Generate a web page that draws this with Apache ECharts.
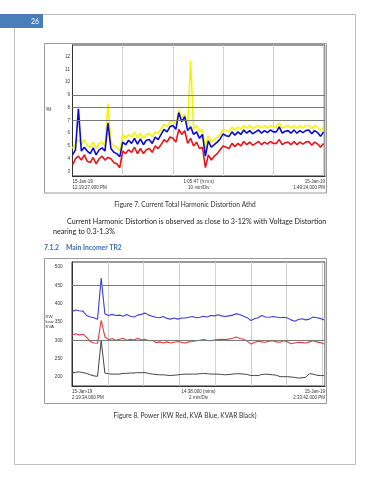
<!DOCTYPE html>
<html><head><meta charset="utf-8">
<script src="https://cdn.jsdelivr.net/npm/echarts@6/dist/echarts.min.js"></script>
<style>html,body{margin:0;padding:0;background:#fff}#c{width:370px;height:480px}</style>
</head><body><div id="c"></div>
<script>
// ---- Figure 7: Current THD (%f) ----
const thdYellow = [
  4.8,5.2,5.5,5.1,5.5,5.0,4.9,5.3,4.8,5.2,
  5.3,5.0,8.3,5.3,5.0,4.9,4.6,5.9,5.6,5.9,
  5.7,6.1,5.6,6.0,5.6,5.9,6.0,5.7,6.1,6.0,
  6.3,6.7,6.5,6.9,6.9,6.7,7.8,7.2,7.5,6.6,
  11.7,6.3,6.6,6.1,6.3,4.8,5.8,5.3,5.5,5.7,
  5.9,6.3,6.2,6.1,6.5,6.2,6.5,6.3,6.6,6.4,
  6.6,6.35,6.5,6.6,6.4,6.6,6.4,6.6,6.5,6.5,
  6.8,6.4,6.5,6.6,6.4,6.6,6.4,6.6,6.4,6.6,
  6.6,6.35,6.6,6.45,6.2,6.5];
const thdBlue = [
  4.3,4.7,7.9,4.6,4.9,4.6,4.4,4.85,4.3,4.7,
  4.85,4.6,6.8,4.8,4.5,4.4,4.15,5.3,5.1,5.45,
  5.2,5.6,5.15,5.55,5.1,5.45,5.5,5.2,5.7,5.5,
  5.9,6.3,6.1,6.5,6.6,6.3,7.6,6.9,7.3,6.2,
  6.5,5.9,6.1,5.6,5.9,4.2,5.4,4.9,5.1,5.3,
  5.55,5.95,5.8,5.75,6.1,5.85,6.1,5.9,6.25,6.0,
  6.2,5.95,6.1,6.25,6.0,6.2,6.05,6.25,6.1,6.1,
  6.5,6.0,6.15,6.2,6.0,6.25,6.0,6.2,6.05,6.2,
  6.25,5.95,6.2,6.05,5.75,6.1];
const thdRed = [
  3.5,4.0,4.2,3.9,4.3,3.8,3.7,4.1,3.6,4.0,
  4.2,3.9,4.1,4.0,3.7,3.6,3.3,4.6,4.4,4.7,
  4.5,4.9,4.4,4.8,4.4,4.7,4.8,4.5,5.0,4.8,
  5.1,5.5,5.3,5.7,5.6,5.3,6.3,5.9,6.2,5.2,
  5.6,5.0,5.3,4.8,4.9,3.3,4.3,3.9,4.2,4.4,
  4.7,5.0,4.9,4.8,5.2,4.95,5.2,5.0,5.35,5.1,
  5.3,5.05,5.2,5.35,5.1,5.3,5.15,5.35,5.2,5.2,
  5.5,5.1,5.25,5.3,5.1,5.35,5.1,5.3,5.15,5.3,
  5.35,5.05,5.3,5.15,4.9,5.2];
const thdYTicks = [3,4,5,6,7,8,9,10,11,12];
const thdGridLines = [7,8,9];
const thdXLabels = ['15-Jan-19\n12:19:27.000 PM','1:05:47 (h:m:s)\n10 min/Div','15-Jan-19\n1:49:24.000 PM'];

// ---- Figure 8: Power (KW red, KVA blue, KVAR black) ----
const pwrKVA = [
  378,383,381,380,368,364,362,358,470,373,
  368,371,368,369,366,371,366,364,369,371,
  375,369,366,363,362,365,360,358,361,358,
  361,361,363,365,362,363,366,364,368,367,
  370,367,365,367,369,373,370,366,362,354,
  359,362,368,364,363,365,364,362,363,361,
  356,352,357,359,356,358,364,362,360,356];
const pwrKW = [
  314,318,315,317,308,297,293,292,355,310,
  302,305,300,303,306,300,303,301,306,301,
  303,299,300,294,296,293,296,293,295,297,
  295,293,296,297,299,300,302,300,299,301,
  302,303,302,304,306,309,305,303,298,290,
  294,298,296,295,298,299,296,295,299,296,
  291,293,295,294,293,296,299,296,294,290];
const pwrKVAR = [
  211,213,214,212,210,206,203,202,300,211,
  209,208,208,208,210,210,211,211,212,212,
  212,210,208,207,206,206,205,204,205,206,
  207,208,208,208,208,209,210,209,208,208,
  208,207,206,207,208,209,209,208,207,204,
  204,204,207,208,207,206,205,201,201,201,
  200,199,197,198,199,209,208,205,204,204];
const pwrYTicks = [200,250,300,350,400,450,500];
const pwrGridLines = [300,450];
const pwrXLabels = ['15-Jan-19\n2:19:34.000 PM','14:38.000 (mins)\n2 min/Div','15-Jan-19\n2:33:42.000 PM'];

const texts = {
  page: '26',
  thdUnit: '%f',
  pwrUnit: 'KW\nkvar\nKVA',
  fig7: 'Figure 7. Current Total Harmonic Distortion Athd',
  para1: 'Current Harmonic Distortion is observed as close to 3-12% with Voltage Distortion',
  para2: 'nearing to 0.3-1.3%',
  headNum: '7.1.2',
  headTxt: 'Main Incomer TR2',
  fig8: 'Figure 8. Power (KW Red, KVA Blue, KVAR Black)'
};

const toXY = arr => arr.map((v, i) => [i, v]);
const N1 = thdBlue.length, N2 = pwrKVA.length;
const max1 = N1 - 0.5, max2 = (N2 - 1) * 1.0043;
const AX = '"Liberation Sans", Arial, sans-serif';
const DOC = 'Lato, "Open Sans", sans-serif';

function xAxisFor(gi, max, interval, labels) {
  return {
    type: 'value', gridIndex: gi, min: 0, max: max, interval: interval,
    axisLine: {show: true, lineStyle: {color: '#333', width: 1}},
    axisTick: {show: false},
    splitLine: {show: true, lineStyle: {color: '#d0d0d0', width: 1}},
    axisLabel: {
      show: true, showMinLabel: true, showMaxLabel: true, hideOverlap: false,
      customValues: [0, max / 2, max],
      formatter: v => (v < max * 0.25 ? labels[0] : (v > max * 0.75 ? labels[2] : labels[1])),
      alignMinLabel: 'left', alignMaxLabel: 'right',
      fontSize: 4.5, lineHeight: 6, color: '#333', fontFamily: AX, margin: 3
    }
  };
}
function yAxisFor(gi, min, max, ticks, margin, fs) {
  return {
    type: 'value', gridIndex: gi, min: min, max: max,
    axisLine: {show: true, lineStyle: {color: '#333', width: 1}},
    axisTick: {show: false, customValues: ticks},
    splitLine: {show: false},
    axisLabel: {customValues: ticks, fontSize: fs, color: '#333', fontFamily: AX, margin: margin}
  };
}
function gridMark(vals) {
  return {
    silent: true, symbol: 'none', label: {show: false},
    lineStyle: {color: '#7a7a7a', type: 'solid', width: 1},
    data: vals.map(v => ({yAxis: v})), animation: false
  };
}
const lineSeries = (name, data, gi, color, width, extra) => Object.assign({
  name: name, type: 'line', xAxisIndex: gi, yAxisIndex: gi, data: toXY(data),
  showSymbol: false, symbol: 'none', lineStyle: {color: color, width: width}, itemStyle: {color: color},
  animation: false, z: 3
}, extra || {});

const chart = echarts.init(document.getElementById('c'), null, {renderer: 'canvas'});
chart.setOption({
  backgroundColor: '#fff',
  animation: false,
  grid: [
    {left: 72.5, top: 45, width: 252.5, height: 131, show: true, borderColor: '#333', borderWidth: 1, containLabel: false},
    {left: 72, top: 262, width: 253, height: 124, show: true, borderColor: '#333', borderWidth: 1, containLabel: false}
  ],
  xAxis: [xAxisFor(0, max1, 17, thdXLabels), xAxisFor(1, max2, (N2 - 1) * 1.0043 / 7.07, pwrXLabels)],
  yAxis: [yAxisFor(0, 2.65, 12.9, thdYTicks, 2.5, 4.5), yAxisFor(1, 175.5, 514, pwrYTicks, 9.5, 4.6)],
  series: [
    lineSeries('Yellow', thdYellow, 0, '#f5f500', 1.6, {markLine: gridMark(thdGridLines), z: 2}),
    lineSeries('Red', thdRed, 0, '#e8141a', 1.6),
    lineSeries('Blue', thdBlue, 0, '#0a0ad0', 1.6),
    lineSeries('KVAR', pwrKVAR, 1, '#444444', 1, {markLine: gridMark(pwrGridLines), z: 2}),
    lineSeries('KW', pwrKW, 1, '#e23b3b', 1.1),
    lineSeries('KVA', pwrKVA, 1, '#3f3fd8', 1.1)
  ],
  graphic: [
    {type: 'rect', shape: {x: 14.5, y: 14.5, width: 341, height: 450}, style: {fill: 'none', stroke: '#bdbdbd', lineWidth: 1}, z: -1},
    {type: 'rect', shape: {x: 0, y: 14, width: 43, height: 14}, style: {fill: '#4a7ebb'}, z: 0},
    {type: 'text', style: {text: texts.page, x: 35, y: 21.5, fill: '#fff', font: '7px ' + DOC, align: 'center', verticalAlign: 'middle'}},
    {type: 'rect', shape: {x: 44.5, y: 43.5, width: 282, height: 149.5}, style: {fill: 'none', stroke: '#9a9a9a', lineWidth: 1}, z: -1},
    {type: 'rect', shape: {x: 44.5, y: 258.5, width: 282, height: 145}, style: {fill: 'none', stroke: '#9a9a9a', lineWidth: 1}, z: -1},
    {type: 'text', style: {text: texts.thdUnit, x: 46, y: 110, fill: '#333', font: '4.5px ' + AX, verticalAlign: 'middle'}},
    {type: 'text', style: {text: texts.pwrUnit, x: 45.5, y: 314.5, fill: '#333', font: '4.4px ' + AX, lineHeight: 5, verticalAlign: 'top'}},
    {type: 'text', style: {text: texts.fig7, x: 185, y: 205, fill: '#333', font: '6.6px ' + DOC, align: 'center', verticalAlign: 'middle'}},
    {type: 'text', style: {text: texts.para1, x: 67, y: 222, fill: '#222', font: '7.15px ' + DOC, verticalAlign: 'middle'}},
    {type: 'text', style: {text: texts.para2, x: 53, y: 232, fill: '#222', font: '7.15px ' + DOC, verticalAlign: 'middle'}},
    {type: 'text', style: {text: texts.headNum, x: 44, y: 248, fill: '#3b6fb6', font: 'bold 6.8px ' + DOC, verticalAlign: 'middle'}},
    {type: 'text', style: {text: texts.headTxt, x: 66, y: 248, fill: '#3b6fb6', font: 'bold 6.8px ' + DOC, verticalAlign: 'middle'}},
    {type: 'text', style: {text: texts.fig8, x: 185, y: 416, fill: '#333', font: '6.6px ' + DOC, align: 'center', verticalAlign: 'middle'}}
  ]
});
</script></body></html>
